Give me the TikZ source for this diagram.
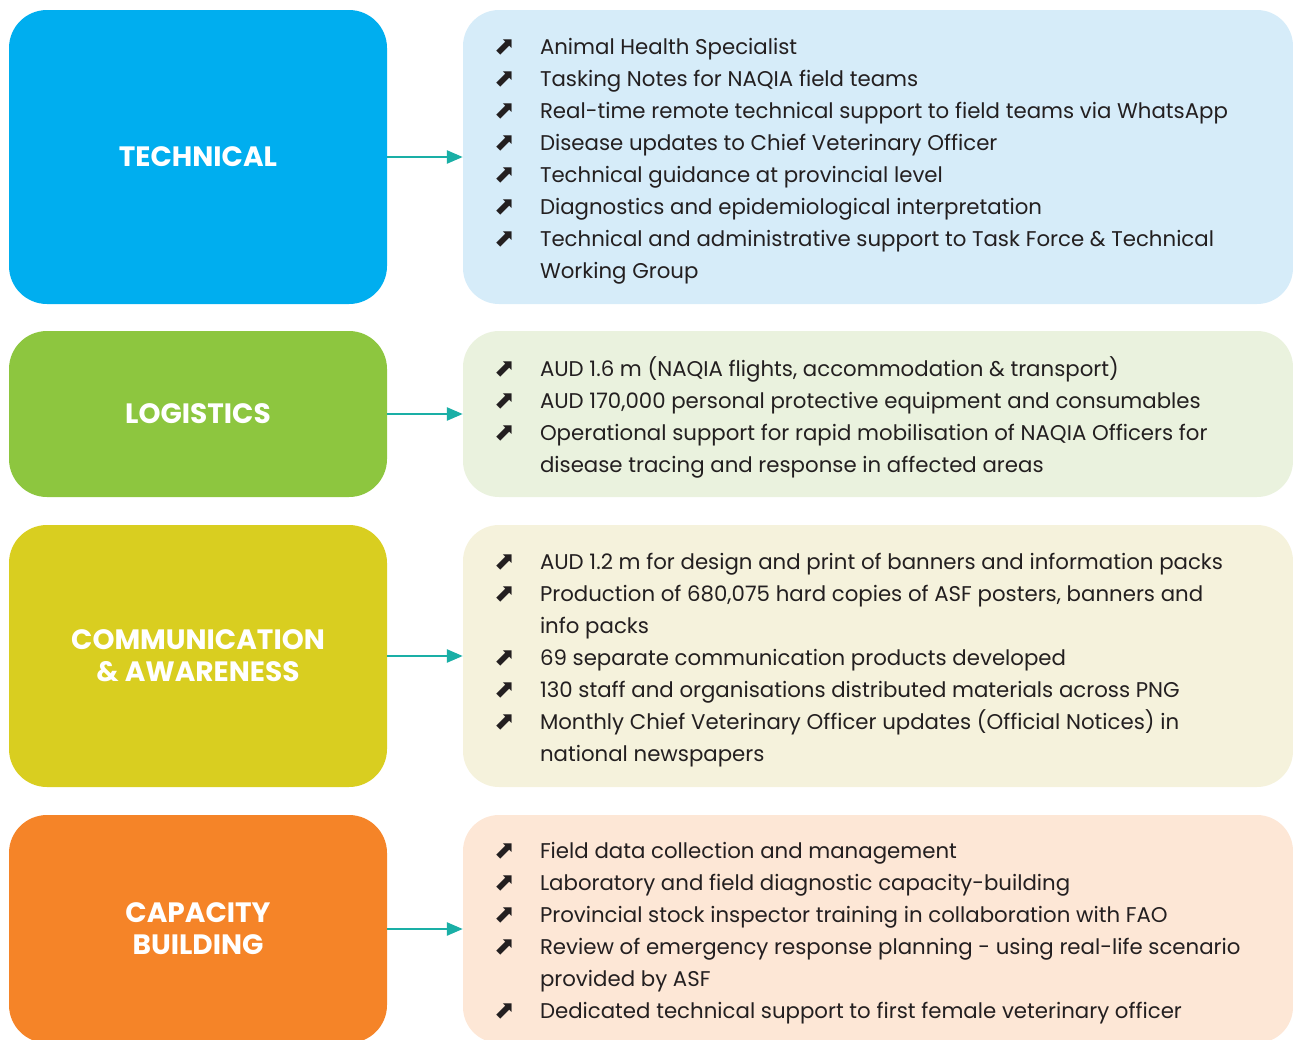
\documentclass[tikz,border=0pt]{standalone}
\usepackage{fontspec}
\setmainfont{Poppins}
\newfontfamily\arrowfont{DejaVu Sans}
\usetikzlibrary{arrows.meta}
\definecolor{techdark}{HTML}{00AEEF}
\definecolor{techlight}{HTML}{D6ECF9}
\definecolor{logdark}{HTML}{8DC63F}
\definecolor{loglight}{HTML}{EAF2DE}
\definecolor{commdark}{HTML}{D9CE20}
\definecolor{commlight}{HTML}{F5F2DC}
\definecolor{capdark}{HTML}{F58428}
\definecolor{caplight}{HTML}{FDE7D6}
\definecolor{linkteal}{HTML}{1AAFA6}
\definecolor{textdark}{HTML}{231F20}
\newcommand{\bul}{\makebox[46pt][l]{\arrowfont\fontsize{25}{32}\selectfont ⬈}}
\newcommand{\cont}{\hspace*{46pt}}

\begin{document}
\begin{tikzpicture}[x=1pt,y=-1pt,
    catbox/.style={rounded corners=38pt,minimum width=378pt,inner sep=0pt,
      text=white,align=center,font=\bfseries\fontsize{28}{32}\selectfont},
    listbox/.style={rounded corners=36pt,minimum width=830pt,inner sep=0pt},
    itemlist/.style={anchor=west,inner sep=0pt,align=left,text=textdark,
      font=\fontsize{21.3}{32}\selectfont},
    link/.style={line width=2.5pt,linkteal,-{Triangle[length=16pt,width=13pt]}}]
    \useasboundingbox (0,0) rectangle (1293,1039);
    \clip (0,0) rectangle (1293,1039);

    % category boxes
    \node[catbox,fill=techdark,minimum height=294pt] (techl) at (198,157) {TECHNICAL};
    \node[catbox,fill=logdark,minimum height=166pt] (logl) at (198,414) {LOGISTICS};
    \node[catbox,fill=commdark,minimum height=262pt] (comml) at (198,656) {COMMUNICATION\\\& AWARENESS};
    \node[catbox,fill=capdark,minimum height=228pt] (capl) at (198,929) {CAPACITY\\BUILDING};

    % list boxes
    \node[listbox,fill=techlight,minimum height=294pt] (techr) at (878,157) {};
    \node[listbox,fill=loglight,minimum height=166pt] (logr) at (878,414) {};
    \node[listbox,fill=commlight,minimum height=262pt] (commr) at (878,656) {};
    \node[listbox,fill=caplight,minimum height=228pt] (capr) at (878,929) {};

    % arrows between boxes
    \draw[link] (techl) -- (techr);
    \draw[link] (logl) -- (logr);
    \draw[link] (comml) -- (commr);
    \draw[link] (capl) -- (capr);

    % lists
    \node[itemlist] (techtxt) at ([xshift=31pt,yshift=-4pt]techr.west) {%
      \bul Animal Health Specialist\\
      \bul Tasking Notes for NAQIA field teams\\
      \bul Real-time remote technical support to field teams via WhatsApp\\
      \bul Disease updates to Chief Veterinary Officer\\
      \bul Technical guidance at provincial level\\
      \bul Diagnostics and epidemiological interpretation\\
      \bul Technical and administrative support to Task Force \& Technical\\
      \cont Working Group};
    \node[itemlist] (logtxt) at ([xshift=31pt,yshift=-3pt]logr.west) {%
      \bul AUD 1.6 m (NAQIA flights, accommodation \& transport)\\
      \bul AUD 170,000 personal protective equipment and consumables\\
      \bul Operational support for rapid mobilisation of NAQIA Officers for\\
      \cont disease tracing and response in affected areas};
    \node[itemlist] (commtxt) at ([xshift=31pt,yshift=-4pt]commr.west) {%
      \bul AUD 1.2 m for design and print of banners and information packs\\
      \bul Production of 680,075 hard copies of ASF posters, banners and\\
      \cont info packs\\
      \bul 69 separate communication products developed\\
      \bul 130 staff and organisations distributed materials across PNG\\
      \bul Monthly Chief Veterinary Officer updates (Official Notices) in\\
      \cont national newspapers};
    \node[itemlist] (captxt) at ([xshift=31pt,yshift=-4pt]capr.west) {%
      \bul Field data collection and management\\
      \bul Laboratory and field diagnostic capacity-building\\
      \bul Provincial stock inspector training in collaboration with FAO\\
      \bul Review of emergency response planning - using real-life scenario\\
      \cont provided by ASF\\
      \bul Dedicated technical support to first female veterinary officer};
\end{tikzpicture}
\end{document}
